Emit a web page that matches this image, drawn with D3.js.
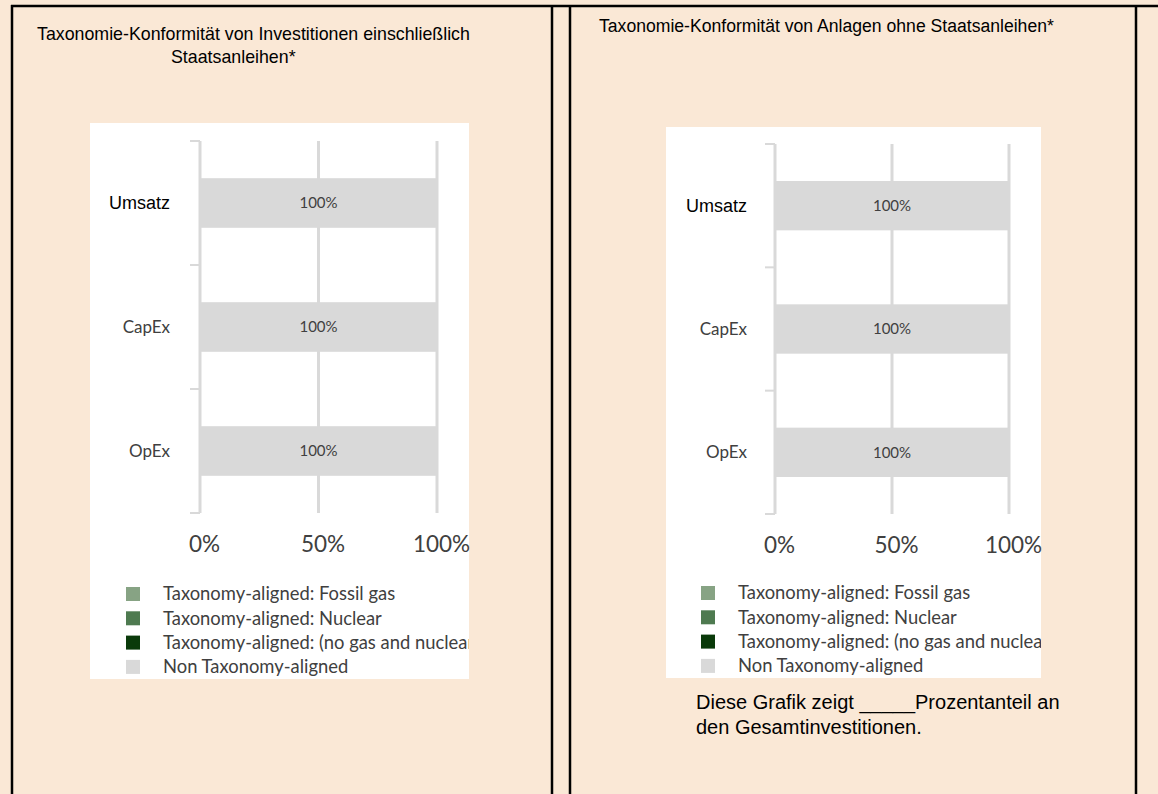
<!DOCTYPE html>
<html>
<head>
<meta charset="utf-8">
<script src="https://cdn.jsdelivr.net/npm/d3@7"></script>
<style>
  body { margin: 0; background: #fae8d6; }
  svg { display: block; }
</style>
</head>
<body>
<div id="chart"></div>
<script>

// DATA ------------------------------

const categories = ["Umsatz", "CapEx", "OpEx"];

const seriesNames = [
  "Taxonomy-aligned: Fossil gas",
  "Taxonomy-aligned: Nuclear",
  "Taxonomy-aligned: (no gas and nuclear)",
  "Non Taxonomy-aligned"
];
const seriesColors = ["#87a384", "#4e7a50", "#0a3a0a", "#d9d9d9"];

// chart 1: including sovereign bonds
const fossilGasIncl = [0, 0, 0];
const nuclearIncl = [0, 0, 0];
const otherAlignedIncl = [0, 0, 0];
const nonAlignedIncl = [100, 100, 100];

// chart 2: without sovereign bonds
const fossilGasExcl = [0, 0, 0];
const nuclearExcl = [0, 0, 0];
const otherAlignedExcl = [0, 0, 0];
const nonAlignedExcl = [100, 100, 100];

const xTicks = [0, 50, 100];


// PAGE INIT -------------------------

const W = 1158, H = 794;
const arial = "Liberation Sans, Arial, sans-serif";

const svg = d3.select("#chart").append("svg")
  .attr("width", W)
  .attr("height", H);

svg.append("rect")
  .attr("width", W).attr("height", H)
  .attr("fill", "#fae8d6");

// table borders
const border = svg.append("g").attr("stroke", "#000").attr("stroke-width", 2.5);
border.append("line").attr("x1", 11).attr("x2", W).attr("y1", 6).attr("y2", 6);
[12, 552, 570, 1136].forEach(x => {
  border.append("line").attr("x1", x).attr("x2", x).attr("y1", 5).attr("y2", H);
});

// titles
svg.append("text")
  .attr("x", 37).attr("y", 40)
  .attr("font-family", arial)
  .attr("font-size", 17.8)
  .text("Taxonomie-Konformität von Investitionen einschließlich");
svg.append("text")
  .attr("x", 171).attr("y", 63)
  .attr("font-family", arial)
  .attr("font-size", 17.8)
  .text("Staatsanleihen*");
svg.append("text")
  .attr("x", 599).attr("y", 32)
  .attr("font-family", arial)
  .attr("font-size", 17.6)
  .text("Taxonomie-Konformität von Anlagen ohne Staatsanleihen*");

// note under the second chart
svg.append("text")
  .attr("x", 696).attr("y", 709)
  .attr("font-family", arial)
  .attr("font-size", 20)
  .text("Diese Grafik zeigt _____Prozentanteil an");
svg.append("text")
  .attr("x", 696).attr("y", 734)
  .attr("font-family", arial)
  .attr("font-size", 20)
  .text("den Gesamtinvestitionen.");


// CHART FUNCTION --------------------

function drawChart(id, box, xRange, yRange, labelRight, legendX, legendY, values) {

  const g = svg.append("g").attr("class", "chart-" + id);

  svg.append("clipPath").attr("id", "clip-" + id)
    .append("rect")
    .attr("x", box.x).attr("y", box.y)
    .attr("width", box.w).attr("height", box.h);

  g.append("rect")
    .attr("x", box.x).attr("y", box.y)
    .attr("width", box.w).attr("height", box.h)
    .attr("fill", "#fff");

  const table = categories.map((c, i) => {
    const row = {cat: c};
    seriesNames.forEach((s, j) => row[s] = values[j][i]);
    return row;
  });
  const stacked = d3.stack().keys(seriesNames)(table);

  const xScale = d3.scaleLinear().domain([0, 100]).range(xRange);
  const yScale = d3.scaleBand()
    .domain(categories)
    .range(yRange)
    .paddingInner(0.6)
    .paddingOuter(0.3);
  const step = yScale.step();

  // gridlines
  g.selectAll(".grid")
    .data(xTicks.filter(d => d > 0))
    .join("line")
    .attr("x1", d => xScale(d)).attr("x2", d => xScale(d))
    .attr("y1", yRange[0]).attr("y2", yRange[1])
    .attr("stroke", "#d9d9d9").attr("stroke-width", 3);

  // bars
  g.selectAll(".series")
    .data(stacked)
    .join("g")
    .attr("fill", (d, i) => seriesColors[i])
    .selectAll("rect")
    .data(d => d)
    .join("rect")
    .attr("x", d => xScale(d[0]))
    .attr("y", d => yScale(d.data.cat))
    .attr("width", d => xScale(d[1]) - xScale(d[0]))
    .attr("height", yScale.bandwidth());

  // data labels
  stacked.forEach(s => {
    g.selectAll(null)
      .data(s.filter(d => d[1] - d[0] > 0))
      .join("text")
      .attr("x", d => xScale((d[0] + d[1]) / 2))
      .attr("y", d => yScale(d.data.cat) + yScale.bandwidth() / 2)
      .attr("dy", "0.35em")
      .attr("text-anchor", "middle")
      .attr("font-family", "Lato, sans-serif")
      .attr("font-size", 15)
      .attr("fill", "#404040")
      .text(d => Math.round(d[1] - d[0]) + "%");
  });

  // category axis with ticks between categories
  const x0 = xScale(0);
  g.append("line")
    .attr("x1", x0).attr("x2", x0)
    .attr("y1", yRange[0]).attr("y2", yRange[1])
    .attr("stroke", "#d9d9d9").attr("stroke-width", 3);
  g.selectAll(".ytick")
    .data(d3.range(categories.length + 1))
    .join("line")
    .attr("x1", x0 - 10).attr("x2", x0)
    .attr("y1", i => yRange[0] + i * step)
    .attr("y2", i => yRange[0] + i * step)
    .attr("stroke", "#d9d9d9").attr("stroke-width", 2);

  g.selectAll(".ylabel")
    .data(categories)
    .join("text")
    .attr("x", labelRight)
    .attr("y", d => yScale(d) + yScale.bandwidth() / 2)
    .attr("dy", "0.35em")
    .attr("text-anchor", "end")
    .attr("font-family", (d, i) => i == 0 ? arial : "Lato, sans-serif")
    .attr("font-size", (d, i) => i == 0 ? 18 : 17)
    .attr("fill", (d, i) => i == 0 ? "#000" : "#404040")
    .text(d => d);

  // value axis
  const xAxis = d3.axisBottom(xScale)
    .tickValues(xTicks)
    .tickFormat(d => d + "%")
    .tickSize(0)
    .tickPadding(23);

  g.append("g")
    .attr("class", "x-axis")
    .attr("transform", `translate(0, ${yRange[1]})`)
    .call(xAxis)
    .call(a => a.select(".domain").remove())
    .selectAll("text")
    .attr("dx", 4)
    .attr("font-family", "Lato, sans-serif")
    .attr("font-size", 22.5)
    .attr("fill", "#404040");

  // legend
  const legend = g.append("g")
    .attr("clip-path", `url(#clip-${id})`)
    .selectAll("g")
    .data(seriesNames)
    .join("g")
    .attr("transform", (d, i) => `translate(${legendX}, ${legendY + i * 24.3})`);

  legend.append("rect")
    .attr("x", 0).attr("y", -7)
    .attr("width", 14).attr("height", 14)
    .attr("fill", (d, i) => seriesColors[i]);

  legend.append("text")
    .attr("x", 37)
    .attr("dy", "0.35em")
    .attr("font-family", "Lato, sans-serif")
    .attr("font-size", 18.4)
    .attr("fill", "#404040")
    .text(d => d);
}


// DRAW ------------------------------

drawChart("incl",
  {x: 90, y: 123, w: 379, h: 556},
  [200, 437], [141, 513], 170, 126, 594,
  [fossilGasIncl, nuclearIncl, otherAlignedIncl, nonAlignedIncl]);

drawChart("excl",
  {x: 666, y: 127, w: 375, h: 551},
  [775, 1009], [144, 514], 747, 701, 593,
  [fossilGasExcl, nuclearExcl, otherAlignedExcl, nonAlignedExcl]);

</script>
</body>
</html>
